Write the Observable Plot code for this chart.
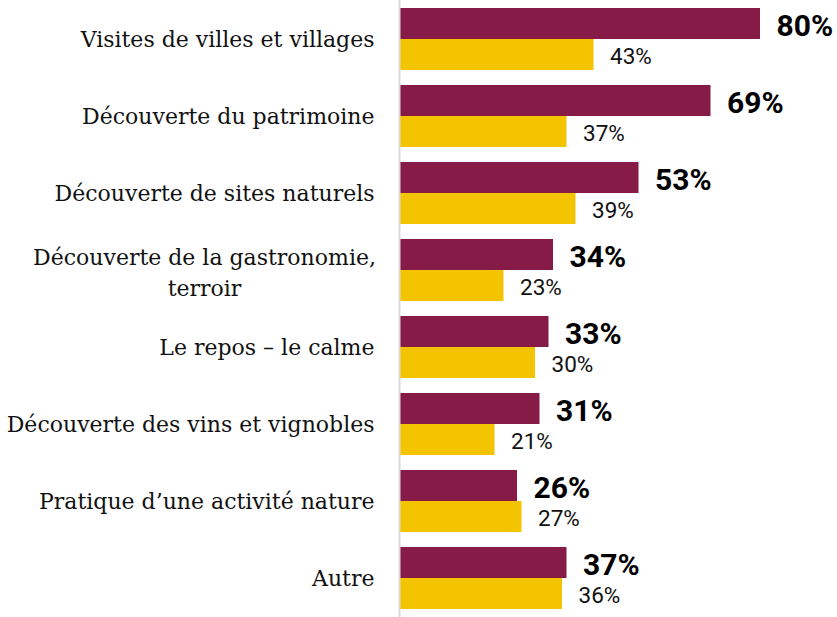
<!DOCTYPE html>
<html>
<head>
<meta charset="utf-8">
<script src="https://cdn.jsdelivr.net/npm/d3@7"></script>
<script src="https://cdn.jsdelivr.net/npm/@observablehq/plot@0.6"></script>
<style>
  html, body { margin: 0; padding: 0; background: #fff; }
  svg { display: block; }
</style>
</head>
<body>
<div id="chart"></div>
<script>
const categories = [
  "Visites de villes et villages",
  "Découverte du patrimoine",
  "Découverte de sites naturels",
  "Découverte de la gastronomie,\nterroir",
  "Le repos – le calme",
  "Découverte des vins et vignobles",
  "Pratique d’une activité nature",
  "Autre"
];
const seriesA = [80, 69, 53, 34, 33, 31, 26, 37];
const seriesB = [43, 37, 39, 23, 30, 21, 27, 36];

const rowsA = categories.map((c, i) => ({category: c, value: seriesA[i]}));
const rowsB = categories.map((c, i) => ({category: c, value: seriesB[i]}));
const single = categories.filter(c => !c.includes("\n")).map(c => ({category: c}));
const multi = categories.filter(c => c.includes("\n")).map(c => ({category: c}));

const labelFont = "'DejaVu Serif', serif";
const numFont = "Roboto, 'Liberation Sans', sans-serif";

const chart = Plot.plot({
  width: 837,
  height: 617,
  marginLeft: 400,
  marginRight: 77,
  marginTop: 0,
  marginBottom: 0,
  x: {domain: [0, 80], axis: null},
  y: {domain: categories, axis: null, paddingInner: 0.196, paddingOuter: 0.1},
  marks: [
    Plot.barX(rowsA, {x: "value", y: "category", fill: "#871B48", insetBottom: 31}),
    Plot.barX(rowsB, {x: "value", y: "category", fill: "#F5C400", insetTop: 31}),
    Plot.ruleX([0], {stroke: "#d9d9d9", strokeWidth: 2, dx: -1}),
    Plot.text(rowsA, {x: "value", y: "category", text: d => d.value + "%", textAnchor: "start",
      dx: 16, dy: -13, fontSize: 30, fontWeight: "bold", fontFamily: numFont, fill: "#000"}),
    Plot.text(rowsB, {x: "value", y: "category", text: d => d.value + "%", textAnchor: "start",
      dx: 16, dy: 17, fontSize: 22.5, fontFamily: numFont, fill: "#111"}),
    Plot.text(single, {x: () => 0, y: "category", text: "category", textAnchor: "end",
      dx: -26, fontSize: 22, fontFamily: labelFont, fill: "#111"}),
    Plot.text(multi, {x: () => 0, y: "category", text: "category", textAnchor: "middle",
      dx: -196, fontSize: 22, lineHeight: 1.41, fontFamily: labelFont, fill: "#111"})
  ]
});
document.getElementById("chart").appendChild(chart);
</script>
</body>
</html>
